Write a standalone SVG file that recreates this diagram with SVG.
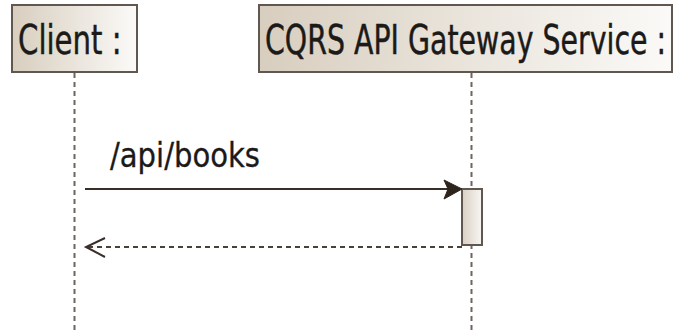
<svg xmlns="http://www.w3.org/2000/svg" width="673" height="331" viewBox="0 0 673 331">
  <style>
    .head { stroke: #5f5750; stroke-width: 2; }
    .name { font-family: "DejaVu Sans Condensed", "Liberation Sans Narrow", "Liberation Sans", sans-serif; font-stretch: condensed; font-size: 41px; fill: #1c1a18; stroke: #1c1a18; stroke-width: 0.45; }
    .label { font-family: "DejaVu Sans Condensed", "Liberation Sans Narrow", "Liberation Sans", sans-serif; font-stretch: condensed; font-size: 33px; fill: #1c1a18; stroke: #1c1a18; stroke-width: 0.3; }
    .life { stroke: #6e655e; stroke-width: 2; stroke-dasharray: 5 4; fill: none; }
    .msg { stroke: #3a2e28; stroke-width: 2; fill: none; }
    .ret { stroke: #4a4038; stroke-width: 2; stroke-dasharray: 5 4; fill: none; }
  </style>
  <defs>
    <linearGradient id="headFill" x1="0" y1="0" x2="1" y2="0">
      <stop offset="0" stop-color="#d8cebf"/>
      <stop offset="1" stop-color="#fbfaf8"/>
    </linearGradient>
    <linearGradient id="actFill" x1="0" y1="0" x2="1" y2="0">
      <stop offset="0" stop-color="#d9d0c3"/>
      <stop offset="1" stop-color="#f8f6f3"/>
    </linearGradient>
  </defs>
  <rect width="673" height="331" fill="#ffffff"/>

  <!-- lifelines -->
  <g id="lifelines">
    <line class="life" x1="74.5" y1="73" x2="74.5" y2="331"/>
    <line class="life" x1="471.5" y1="73" x2="471.5" y2="331"/>
  </g>

  <g id="client">
    <rect class="head" x="12" y="5" width="125" height="67" fill="url(#headFill)"/>
    <text class="name" transform="translate(18,54) scale(0.7,1)" textLength="148" lengthAdjust="spacingAndGlyphs">Client :</text>
  </g>

  <g id="gateway">
    <rect class="head" x="259" y="5" width="413" height="67" fill="url(#headFill)"/>
    <text class="name" transform="translate(265,54) scale(0.7,1)" textLength="573" lengthAdjust="spacingAndGlyphs">CQRS API Gateway Service :</text>
  </g>

  <g id="activation">
    <rect class="head" x="462" y="189" width="20" height="56" fill="url(#actFill)"/>
  </g>

  <g id="connectors">
    <line class="msg" x1="85" y1="189" x2="450" y2="189"/>
    <polygon points="444,180 462,189 444,199 448,189" fill="#2e241e" stroke="#2e241e" stroke-width="1"/>
    <text class="label" x="110" y="167" textLength="150" lengthAdjust="spacingAndGlyphs">/api/books</text>
    <line class="ret" x1="462" y1="247" x2="87" y2="247"/>
    <polyline class="msg" points="105,238 86,247 105,257" stroke="#4a4038"/>
  </g>
</svg>
